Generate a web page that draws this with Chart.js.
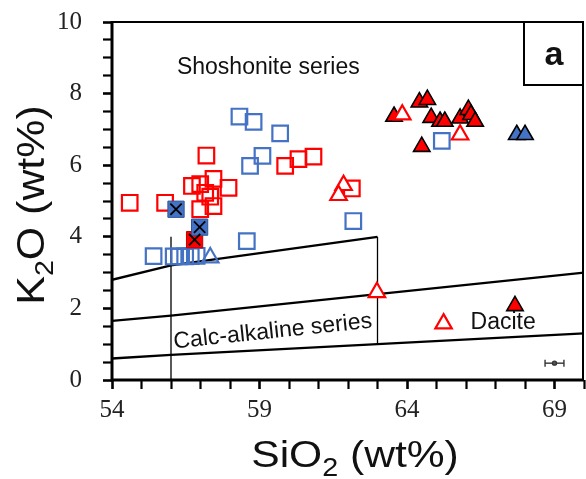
<!DOCTYPE html>
<html>
<head>
<meta charset="utf-8">
<script src="https://cdn.jsdelivr.net/npm/chart.js@4/dist/chart.umd.min.js"></script>
<style>
  html, body { margin: 0; padding: 0; background: #fff; }
  canvas { display: block; }
</style>
</head>
<body>
<canvas id="chart" width="586" height="479"></canvas>
<script>
// ---- Sample data: SiO2 (wt%) on x, K2O (wt%) on y ----
const redSquareSiO2 = [54.6, 55.8, 57.2, 57.44, 56.71, 56.99, 57.95, 57.16, 57.33, 57.44, 56.99, 59.87, 60.32, 60.83, 62.13];
const redSquareK2O  = [4.95, 4.95, 6.27, 5.62, 5.42, 5.47, 5.37, 5.23, 5.12, 4.86, 4.77, 5.98, 6.17, 6.24, 5.35];

const blueSquareSiO2 = [55.41, 56.09, 56.28, 56.48, 56.67, 56.87, 58.57, 58.32, 58.8, 59.7, 59.1, 58.68, 62.18, 65.18];
const blueSquareK2O  = [3.46, 3.45, 3.45, 3.45, 3.46, 3.47, 3.88, 7.36, 7.21, 6.89, 6.26, 5.98, 4.44, 6.68];

const blueCrossSiO2 = [56.17, 56.97];
const blueCrossK2O  = [4.77, 4.27];
const redCrossSiO2  = [56.8];
const redCrossK2O   = [3.92];

const blueOpenTriSiO2 = [57.33];
const blueOpenTriK2O  = [3.42];

const redFilledTriSiO2 = [63.56, 64.42, 64.69, 64.82, 65.12, 65.28, 65.8, 66.08, 66.17, 66.31, 64.5, 67.66];
const redFilledTriK2O  = [7.36, 7.76, 7.83, 7.33, 7.22, 7.22, 7.31, 7.55, 7.41, 7.22, 6.52, 2.07];

const redOpenTriSiO2 = [63.84, 65.8, 61.85, 61.68, 62.98];
const redOpenTriK2O  = [7.41, 6.85, 5.44, 5.16, 2.45];

const blueFilledTriSiO2 = [67.72, 68.0];
const blueFilledTriK2O  = [6.85, 6.85];

// ---- Series boundaries (K2O vs SiO2) ----
const shoshoniteLineSiO2 = [54, 56, 63];
const shoshoniteLineK2O  = [2.8, 3.2, 4.0];
const highKLineSiO2 = [54, 56, 63, 70];
const highKLineK2O  = [1.65, 1.8, 2.4, 3.0];
const lowKLineSiO2  = [54, 56, 63, 70];
const lowKLineK2O   = [0.6, 0.7, 1.0, 1.3];
const divider56SiO2 = [56, 56];
const divider56K2O  = [0, 4.0];
const divider63SiO2 = [63, 63];
const divider63K2O  = [1.0, 4.0];

// analytical uncertainty bar
const errorBarSiO2 = [68.68, 69, 69.32];
const errorBarK2O  = [0.47, 0.47, 0.47];

// axis ticks
const xMin = 54, xMax = 70, xStep = 1, xLabelEvery = 5;
const yMin = 0, yMax = 10, yStep = 0.5, yLabelEvery = 2;

const RED = '#ff0000';
const BLUE = '#4472c4';
const SANS = '"Liberation Sans", Arial, sans-serif';
const SERIF = '"Liberation Serif", "Times New Roman", serif';

const pts = (xs, ys) => xs.map((v, i) => ({ x: v, y: ys[i] }));

function markerSet(label, xs, ys, style) {
  return Object.assign({ label, data: pts(xs, ys), showLine: false }, style);
}
function lineSet(label, xs, ys, width) {
  return {
    label, data: pts(xs, ys), showLine: true, borderColor: '#000',
    borderWidth: width, pointRadius: 0, fill: false, tension: 0
  };
}

// Datasets listed from top-most to bottom-most
const datasets = [
  markerSet('cross-blue', blueCrossSiO2, blueCrossK2O,
    { pointStyle: 'crossRot', pointRadius: 8, pointBorderColor: '#000', pointBorderWidth: 1.8 }),
  markerSet('cross-red', redCrossSiO2, redCrossK2O,
    { pointStyle: 'crossRot', pointRadius: 8, pointBorderColor: '#000', pointBorderWidth: 1.8 }),
  markerSet('sq-blue-fill', blueCrossSiO2, blueCrossK2O,
    { pointStyle: 'rect', pointRadius: 11.5, pointBackgroundColor: BLUE, pointBorderColor: '#2f5597', pointBorderWidth: 1 }),
  markerSet('sq-red-fill', redCrossSiO2, redCrossK2O,
    { pointStyle: 'rect', pointRadius: 11.5, pointBackgroundColor: RED, pointBorderColor: '#c00000', pointBorderWidth: 1 }),
  markerSet('tri-red-open', redOpenTriSiO2, redOpenTriK2O,
    { pointStyle: 'triangle', pointRadius: 9.5, pointBackgroundColor: '#fff', pointBorderColor: RED, pointBorderWidth: 2.2 }),
  markerSet('tri-blue-open', blueOpenTriSiO2, blueOpenTriK2O,
    { pointStyle: 'triangle', pointRadius: 9.5, pointBackgroundColor: 'rgba(255,255,255,0)', pointBorderColor: BLUE, pointBorderWidth: 2.2 }),
  markerSet('tri-red-fill', redFilledTriSiO2, redFilledTriK2O,
    { pointStyle: 'triangle', pointRadius: 9.5, pointBackgroundColor: RED, pointBorderColor: '#000', pointBorderWidth: 1.6 }),
  markerSet('tri-blue-fill', blueFilledTriSiO2, blueFilledTriK2O,
    { pointStyle: 'triangle', pointRadius: 9.5, pointBackgroundColor: BLUE, pointBorderColor: '#000', pointBorderWidth: 1.6 }),
  markerSet('sq-red', redSquareSiO2, redSquareK2O,
    { pointStyle: 'rect', pointRadius: 11, pointBackgroundColor: 'rgba(255,255,255,0)', pointBorderColor: RED, pointBorderWidth: 2.2 }),
  markerSet('sq-blue', blueSquareSiO2, blueSquareK2O,
    { pointStyle: 'rect', pointRadius: 11, pointBackgroundColor: 'rgba(255,255,255,0)', pointBorderColor: BLUE, pointBorderWidth: 2.2 }),
  {
    label: 'error', data: pts(errorBarSiO2, errorBarK2O), showLine: true,
    borderColor: '#333', borderWidth: 1.4,
    pointStyle: ['line', 'circle', 'line'], pointRotation: [90, 0, 90],
    pointRadius: [3.5, 2, 3.5], pointBorderColor: '#333', pointBackgroundColor: '#555', pointBorderWidth: 1.4
  },
  lineSet('shoshonite', shoshoniteLineSiO2, shoshoniteLineK2O, 2.3),
  lineSet('high-K', highKLineSiO2, highKLineK2O, 2.3),
  lineSet('low-K', lowKLineSiO2, lowKLineK2O, 2.3),
  lineSet('div56', divider56SiO2, divider56K2O, 1.3),
  lineSet('div63', divider63SiO2, divider63K2O, 1.3)
];

// Draw text made of pieces (for subscripts), centred on x, alphabetic baseline y,
// optionally stretched horizontally by sx
function richText(ctx, parts, x, y, sx) {
  let total = 0;
  parts.forEach(p => { ctx.font = p.font; p.w = ctx.measureText(p.t).width; total += p.w; });
  ctx.save();
  ctx.translate(x, y);
  ctx.scale(sx || 1, 1);
  let cx = -total / 2;
  ctx.textAlign = 'left';
  ctx.textBaseline = 'alphabetic';
  parts.forEach(p => { ctx.font = p.font; ctx.fillText(p.t, cx, p.dy || 0); cx += p.w; });
  ctx.restore();
}

const decorations = {
  id: 'decorations',
  afterDraw(chart) {
    const { ctx, chartArea: a, scales: { x, y } } = chart;
    ctx.save();
    ctx.strokeStyle = '#000';
    ctx.lineCap = 'butt';

    // frame
    ctx.lineWidth = 2;
    ctx.beginPath();
    ctx.moveTo(a.left, a.top); ctx.lineTo(a.right - 1, a.top); ctx.lineTo(a.right - 1, a.bottom);
    ctx.stroke();
    ctx.lineWidth = 3;
    ctx.beginPath();
    ctx.moveTo(a.left, a.top - 1); ctx.lineTo(a.left, a.bottom); ctx.lineTo(a.right, a.bottom);
    ctx.stroke();

    // panel letter box
    const bx = a.right - 60, by = a.top, bw = 60, bh = 63;
    ctx.fillStyle = '#fff';
    ctx.fillRect(bx, by, bw, bh);
    ctx.lineWidth = 2;
    ctx.strokeRect(bx, by, bw - 1, bh);
    ctx.fillStyle = '#111';
    ctx.font = 'bold 34px ' + SANS;
    ctx.textAlign = 'center';
    ctx.textBaseline = 'middle';
    ctx.fillText('a', bx + bw / 2, by + bh / 2 + 2);

    // series names
    ctx.fillStyle = '#111';
    ctx.font = '23px ' + SANS;
    ctx.textAlign = 'center';
    ctx.textBaseline = 'middle';
    ctx.fillText('Shoshonite series', x.getPixelForValue(59.3), y.getPixelForValue(8.72));

    ctx.save();
    ctx.translate(x.getPixelForValue(59.45), y.getPixelForValue(1.35));
    ctx.rotate(-6 * Math.PI / 180);
    ctx.fillText('Calc-alkaline series', 0, 0);
    ctx.restore();

    // legend entry
    const lx = x.getPixelForValue(65.24), ly = y.getPixelForValue(1.63) + 2;
    const r = 9.5;
    ctx.strokeStyle = RED;
    ctx.fillStyle = '#fff';
    ctx.lineWidth = 2.2;
    ctx.beginPath();
    ctx.moveTo(lx, ly - r);
    ctx.lineTo(lx + r * Math.sqrt(3) / 2, ly + r / 2);
    ctx.lineTo(lx - r * Math.sqrt(3) / 2, ly + r / 2);
    ctx.closePath();
    ctx.fill(); ctx.stroke();
    ctx.fillStyle = '#111';
    ctx.font = '23px ' + SANS;
    ctx.textAlign = 'left';
    ctx.textBaseline = 'middle';
    ctx.fillText('Dacite', lx + 27, ly - 1);

    // axis titles
    ctx.fillStyle = '#111';
    richText(ctx, [
      { t: 'SiO', font: '37px ' + SANS },
      { t: '2', font: '25px ' + SANS, dy: 9 },
      { t: ' (wt%)', font: '37px ' + SANS }
    ], (a.left + a.right) / 2 + 7, 467, 1.15);

    ctx.save();
    ctx.translate(44, (a.top + a.bottom) / 2 + 4);
    ctx.rotate(-Math.PI / 2);
    richText(ctx, [
      { t: 'K', font: '39px ' + SANS },
      { t: '2', font: '26px ' + SANS, dy: 9 },
      { t: 'O (wt%)', font: '39px ' + SANS }
    ], 0, 0, 1.1);
    ctx.restore();

    ctx.restore();
  }
};

// outward tick marks only, heavier at labelled values
const tickGrid = isMajor => ({
  display: true,
  drawOnChartArea: false,
  drawTicks: true,
  tickLength: 9,
  tickColor: '#000',
  tickWidth: ctx => (ctx.tick && isMajor(ctx.tick.value) ? 2.6 : 2.2)
});

new Chart(document.getElementById('chart'), {
  type: 'scatter',
  data: { datasets },
  plugins: [decorations],
  options: {
    responsive: false,
    animation: false,
    events: [],
    layout: { autoPadding: false, padding: { top: 22, right: 2, left: 0, bottom: 0 } },
    plugins: { legend: { display: false }, tooltip: { enabled: false } },
    scales: {
      x: {
        type: 'linear', min: xMin, max: xMax,
        afterFit: s => { s.height = 99; s.paddingLeft = 0; s.paddingRight = 0; },
        grid: tickGrid(v => (v - xMin) % xLabelEvery === 0),
        border: { display: false },
        ticks: {
          stepSize: xStep, autoSkip: false, maxRotation: 0, padding: 0,
          color: '#222', font: { family: SERIF, size: 25, lineHeight: 1.72 },
          callback: v => ((v - xMin) % xLabelEvery === 0 ? String(v) : '')
        }
      },
      y: {
        type: 'linear', min: yMin, max: yMax,
        afterFit: s => { s.width = 112; s.paddingTop = 0; s.paddingBottom = 0; },
        grid: tickGrid(v => v % yLabelEvery === 0),
        border: { display: false },
        ticks: {
          stepSize: yStep, autoSkip: false, padding: 21,
          color: '#222', font: { family: SERIF, size: 25 },
          callback: v => (v % yLabelEvery === 0 ? String(v) : '')
        }
      }
    }
  }
});
</script>
</body>
</html>
